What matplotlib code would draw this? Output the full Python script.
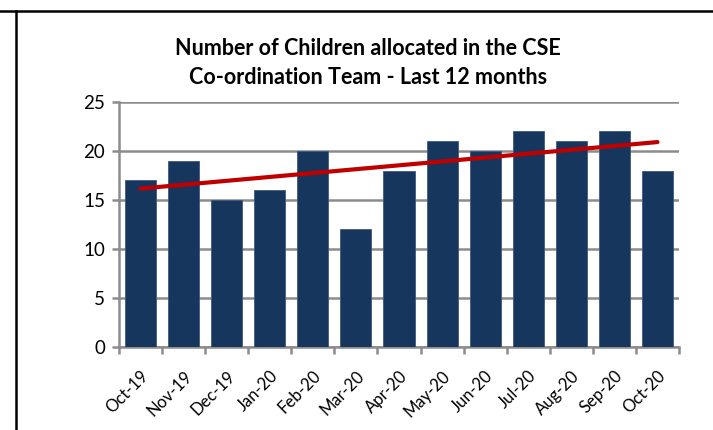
import matplotlib
matplotlib.use("Agg")
import matplotlib.pyplot as plt
import numpy as np
from matplotlib.lines import Line2D

months = ["Oct-19", "Nov-19", "Dec-19", "Jan-20", "Feb-20", "Mar-20", "Apr-20",
          "May-20", "Jun-20", "Jul-20", "Aug-20", "Sep-20", "Oct-20"]
children = [17, 19, 15, 16, 20, 12, 18, 21, 20, 22, 21, 22, 18]
title = "Number of Children allocated in the CSE\nCo-ordination Team - Last 12 months"

plt.rcParams["font.family"] = ["Lato", "DejaVu Sans"]

fig = plt.figure(figsize=(7.13, 4.30), dpi=100)
ax = fig.add_axes([119 / 713, 1 - 347 / 430, 560 / 713, 245 / 430])

x = np.arange(len(months))
ax.bar(x, children, width=0.72, color="#17365d", edgecolor="#3d5a80",
       linewidth=0.6, zorder=3)

# linear trendline (as in the spreadsheet)
slope, icpt = np.polyfit(x, children, 1)
ax.plot(x, slope * x + icpt, color="#c00000", lw=3, zorder=4,
        solid_capstyle="round")

ax.set_xlim(-0.5, len(months) - 0.5)
ax.set_ylim(0, 25)
ax.set_yticks(range(0, 26, 5))
ax.yaxis.grid(True, color="#8c8c8c", lw=1.8, zorder=0)
ax.set_axisbelow(True)

ax.set_xticks(x)
ax.set_xticklabels(months, rotation=45, ha="right", rotation_mode="anchor")
ax.set_xticks(np.arange(-0.5, len(months)), minor=True)
ax.tick_params(axis="x", which="major", length=0, pad=15, labelsize=12)
ax.tick_params(axis="x", which="minor", length=5, width=1.8, color="#8c8c8c",
               direction="out")
ax.tick_params(axis="y", length=5, width=1.8, color="#8c8c8c", labelsize=13.5,
               pad=5)

for s in ["top", "right"]:
    ax.spines[s].set_visible(False)
for s in ["left", "bottom"]:
    ax.spines[s].set_color("#8c8c8c")
    ax.spines[s].set_linewidth(1.8)

fig.text(368 / 713, 1 - 63 / 430, title, ha="center", va="center",
         fontsize=15.5, fontweight="bold", linespacing=1.5)

# outer frame of the surrounding document cell
fig.add_artist(Line2D([0, 1], [1 - 10.5 / 430] * 2, color="black", lw=1.8,
                      transform=fig.transFigure))
fig.add_artist(Line2D([15.5 / 713] * 2, [0, 1 - 10.5 / 430], color="black",
                      lw=1.8, transform=fig.transFigure))

fig.savefig("out.png", dpi=100)
